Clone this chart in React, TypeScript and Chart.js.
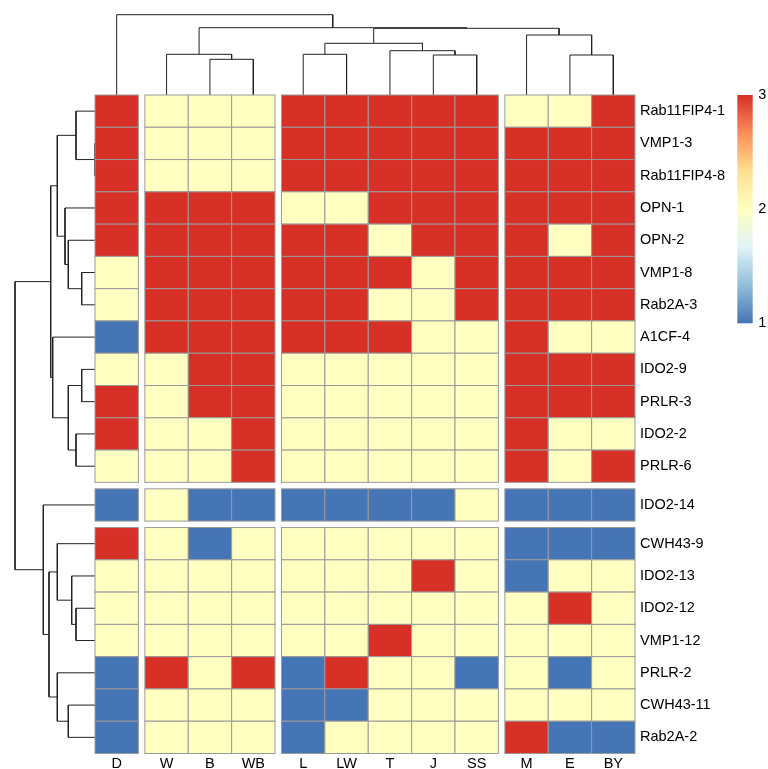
import React, { useEffect, useRef } from 'react';
import { Chart, registerables } from 'chart.js';
Chart.register(...registerables);

// ---------- data ----------
const colLabels = ['D', 'W', 'B', 'WB', 'L', 'LW', 'T', 'J', 'SS', 'M', 'E', 'BY'];
const colGroups = [0, 1, 1, 1, 2, 2, 2, 2, 2, 3, 3, 3];
const rowLabels = [
  'Rab11FIP4-1', 'VMP1-3', 'Rab11FIP4-8', 'OPN-1', 'OPN-2', 'VMP1-8', 'Rab2A-3', 'A1CF-4',
  'IDO2-9', 'PRLR-3', 'IDO2-2', 'PRLR-6', 'IDO2-14', 'CWH43-9', 'IDO2-13', 'IDO2-12',
  'VMP1-12', 'PRLR-2', 'CWH43-11', 'Rab2A-2',
];
const rowGroups = [0, 0, 0, 0, 0, 0, 0, 0, 0, 0, 0, 0, 1, 2, 2, 2, 2, 2, 2, 2];
// columns: D W B WB L LW T J SS M E BY
const values = [
  [3, 2, 2, 2, 3, 3, 3, 3, 3, 2, 2, 3],
  [3, 2, 2, 2, 3, 3, 3, 3, 3, 3, 3, 3],
  [3, 2, 2, 2, 3, 3, 3, 3, 3, 3, 3, 3],
  [3, 3, 3, 3, 2, 2, 3, 3, 3, 3, 3, 3],
  [3, 3, 3, 3, 3, 3, 2, 3, 3, 3, 2, 3],
  [2, 3, 3, 3, 3, 3, 3, 2, 3, 3, 3, 3],
  [2, 3, 3, 3, 3, 3, 2, 2, 3, 3, 3, 3],
  [1, 3, 3, 3, 3, 3, 3, 2, 2, 3, 2, 2],
  [2, 2, 3, 3, 2, 2, 2, 2, 2, 3, 3, 3],
  [3, 2, 3, 3, 2, 2, 2, 2, 2, 3, 3, 3],
  [3, 2, 2, 3, 2, 2, 2, 2, 2, 3, 2, 2],
  [2, 2, 2, 3, 2, 2, 2, 2, 2, 3, 2, 3],
  [1, 2, 1, 1, 1, 1, 1, 1, 2, 1, 1, 1],
  [3, 2, 1, 2, 2, 2, 2, 2, 2, 1, 1, 1],
  [2, 2, 2, 2, 2, 2, 2, 3, 2, 1, 2, 2],
  [2, 2, 2, 2, 2, 2, 2, 2, 2, 2, 3, 2],
  [2, 2, 2, 2, 2, 2, 3, 2, 2, 2, 2, 2],
  [1, 3, 2, 3, 1, 3, 2, 2, 1, 2, 1, 2],
  [1, 2, 2, 2, 1, 1, 2, 2, 2, 2, 2, 2],
  [1, 2, 2, 2, 1, 2, 2, 2, 2, 3, 1, 1],
];
// hclust-style merges: [a, b, height]; negative = leaf (-1 is first leaf), positive = earlier merge
const colMerge = [
  [-3, -4, 35.7],
  [-2, 1, 40.7],
  [-5, -6, 40.7],
  [-8, -9, 40],
  [-7, 4, 44.3],
  [3, 5, 51.7],
  [-11, -12, 40],
  [-10, 7, 60],
  [6, 8, 66.7],
  [2, 9, 67.3],
  [-1, 10, 80.3],
];
const rowMerge = [
  [-2, -3, 0],
  [-1, 1, 19],
  [-6, -7, 13.3],
  [-5, 3, 26.7],
  [-4, 4, 30],
  [2, 5, 37.7],
  [-9, -10, 13.3],
  [-11, -12, 19],
  [7, 8, 26.7],
  [-8, 9, 42.3],
  [6, 10, 44.3],
  [-16, -17, 19],
  [-15, 12, 23.3],
  [-14, 13, 37.7],
  [-19, -20, 26.7],
  [-18, 15, 37.7],
  [14, 16, 46],
  [-13, 17, 51.7],
  [11, 18, 80],
];
const legendTicks = [1, 2, 3];
const valueMin = 1;
const valueMax = 3;

// ---------- layout / style ----------
const W = 768;
const H = 769;
const HM = { left: 95, top: 95, right: 635, bottom: 753.5 };
const LEG = { left: 737.3, right: 752.7, top: 95, bottom: 323.3 };
const DENDRO_H = 95;
const GAP_C = 0.15;
const GAP_R = 0.2;
const FONT = { family: "'Liberation Sans', Arial, Helvetica, sans-serif", size: 14.5 };
const paletteStops = ['#4575B4', '#91BFDB', '#E0F3F8', '#FFFFBF', '#FEE090', '#FC8D59', '#D73027'];

const nGroupsC = Math.max(...colGroups);
const nGroupsR = Math.max(...rowGroups);
const colUnits = colLabels.length + GAP_C * nGroupsC;
const rowUnits = rowLabels.length + GAP_R * nGroupsR;
const colStart = (i: number) => i + GAP_C * colGroups[i];
const rowStart = (i: number) => i + GAP_R * rowGroups[i];
const colCenters = colLabels.map((_, i) => colStart(i) + 0.5);
const rowCenters = rowLabels.map((_, i) => rowStart(i) + 0.5);

function hexToRgb(h: string) {
  const n = parseInt(h.slice(1), 16);
  return [(n >> 16) & 255, (n >> 8) & 255, n & 255];
}
function ramp(t: number) {
  const n = paletteStops.length - 1;
  const p = Math.max(0, Math.min(1, t)) * n;
  const i = Math.min(Math.floor(p), n - 1);
  const f = p - i;
  const a = hexToRgb(paletteStops[i]);
  const b = hexToRgb(paletteStops[i + 1]);
  const c = a.map((v, k) => Math.round(v + (b[k] - v) * f));
  return `rgb(${c[0]},${c[1]},${c[2]})`;
}
function valueColor(v: number) {
  const k = Math.min(99, Math.max(0, Math.ceil(((v - valueMin) / (valueMax - valueMin)) * 100) - 1));
  return ramp(k / 99);
}

function dendroLinks(merge: number[][], leafPos: number[]) {
  const pos: number[] = [];
  const hts: number[] = [];
  const links: { p: number; h: number }[][] = [];
  merge.forEach(([a, b, ht]) => {
    const pa = a < 0 ? leafPos[-a - 1] : pos[a - 1];
    const ha = a < 0 ? 0 : hts[a - 1];
    const pb = b < 0 ? leafPos[-b - 1] : pos[b - 1];
    const hb = b < 0 ? 0 : hts[b - 1];
    links.push([
      { p: pa, h: ha },
      { p: pa, h: ht },
      { p: pb, h: ht },
      { p: pb, h: hb },
    ]);
    pos.push((pa + pb) / 2);
    hts.push(ht);
  });
  return links;
}

const baseOpts = {
  animation: false,
  responsive: false,
  devicePixelRatio: 1,
  events: [],
  plugins: { legend: { display: false }, tooltip: { enabled: false } },
};

const canvasStyle: React.CSSProperties = { position: 'absolute', left: 0, top: 0 };

export default function App() {
  const topRef = useRef<HTMLCanvasElement>(null);
  const leftRef = useRef<HTMLCanvasElement>(null);
  const mainRef = useRef<HTMLCanvasElement>(null);
  const legRef = useRef<HTMLCanvasElement>(null);

  useEffect(() => {
    const charts: Chart[] = [];
    const lineDs = (pts: { x: number; y: number }[]) => ({
      data: pts,
      showLine: true,
      borderColor: '#222',
      borderWidth: 1,
      pointRadius: 0,
      clip: false,
      tension: 0,
    });

    // top (column) dendrogram
    const colLinks = dendroLinks(colMerge, colCenters);
    charts.push(
      new Chart(topRef.current!, {
        type: 'scatter',
        data: { datasets: colLinks.map((l) => lineDs(l.map((q) => ({ x: q.p, y: q.h })))) },
        options: {
          ...baseOpts,
          layout: { padding: { left: HM.left, right: W - HM.right, top: 0, bottom: H - DENDRO_H } },
          scales: {
            x: { type: 'linear', min: 0, max: colUnits, display: false },
            y: { type: 'linear', min: 0, max: DENDRO_H, display: false },
          },
        } as any,
      })
    );

    // left (row) dendrogram
    const rowLinks = dendroLinks(rowMerge, rowCenters);
    charts.push(
      new Chart(leftRef.current!, {
        type: 'scatter',
        data: { datasets: rowLinks.map((l) => lineDs(l.map((q) => ({ x: q.h, y: q.p })))) },
        options: {
          ...baseOpts,
          layout: { padding: { left: 0, right: W - DENDRO_H, top: HM.top, bottom: H - HM.bottom } },
          scales: {
            x: { type: 'linear', min: 0, max: DENDRO_H, reverse: true, display: false },
            y: { type: 'linear', min: 0, max: rowUnits, reverse: true, display: false },
          },
        } as any,
      })
    );

    // heatmap
    const cellPlugin = {
      id: 'cells',
      afterDatasetsDraw(chart: any) {
        const { ctx } = chart;
        const xs = chart.scales.x;
        const ys = chart.scales.y;
        ctx.save();
        ctx.lineWidth = 1;
        ctx.strokeStyle = '#9a9a9a';
        values.forEach((row, r) => {
          row.forEach((v, c) => {
            const x0 = xs.getPixelForValue(colStart(c));
            const x1 = xs.getPixelForValue(colStart(c) + 1);
            const y0 = ys.getPixelForValue(rowStart(r));
            const y1 = ys.getPixelForValue(rowStart(r) + 1);
            ctx.fillStyle = valueColor(v);
            ctx.fillRect(x0, y0, x1 - x0, y1 - y0);
            ctx.strokeRect(x0, y0, x1 - x0, y1 - y0);
          });
        });
        ctx.restore();
      },
    };
    charts.push(
      new Chart(mainRef.current!, {
        type: 'scatter',
        data: { datasets: [] },
        options: {
          ...baseOpts,
          layout: { padding: { left: HM.left, top: HM.top, right: 0, bottom: 0 } },
          scales: {
            x: {
              type: 'linear',
              position: 'bottom',
              min: 0,
              max: colUnits,
              grid: { display: false, drawTicks: false },
              border: { display: false },
              afterBuildTicks: (s: any) => {
                s.ticks = colCenters.map((v) => ({ value: v }));
              },
              afterFit: (s: any) => {
                s.height = H - HM.bottom;
              },
              ticks: {
                autoSkip: false,
                maxRotation: 0,
                minRotation: 0,
                padding: 2,
                color: '#000',
                font: FONT,
                callback: (_v: any, i: number) => colLabels[i],
              },
            },
            y: {
              type: 'linear',
              position: 'right',
              reverse: true,
              min: 0,
              max: rowUnits,
              grid: { display: false, drawTicks: false },
              border: { display: false },
              afterBuildTicks: (s: any) => {
                s.ticks = rowCenters.map((v) => ({ value: v }));
              },
              afterFit: (s: any) => {
                s.width = W - HM.right;
              },
              ticks: {
                autoSkip: false,
                padding: 5,
                color: '#000',
                font: FONT,
                callback: (_v: any, i: number) => rowLabels[i],
              },
            },
          },
        } as any,
        plugins: [cellPlugin],
      })
    );

    // colour legend
    const legPlugin = {
      id: 'legbar',
      afterDatasetsDraw(chart: any) {
        const { ctx } = chart;
        const xs = chart.scales.x;
        const ys = chart.scales.y;
        const x0 = xs.getPixelForValue(0);
        const x1 = xs.getPixelForValue(1);
        const yb = ys.getPixelForValue(valueMin);
        const yt = ys.getPixelForValue(valueMax);
        const g = ctx.createLinearGradient(0, yb, 0, yt);
        for (let k = 0; k < 100; k++) g.addColorStop(k / 99, ramp(k / 99));
        ctx.save();
        ctx.fillStyle = g;
        ctx.fillRect(x0, yt, x1 - x0, yb - yt);
        ctx.restore();
      },
    };
    charts.push(
      new Chart(legRef.current!, {
        type: 'scatter',
        data: { datasets: [] },
        options: {
          ...baseOpts,
          layout: { padding: { left: LEG.left, top: LEG.top, right: 0, bottom: H - LEG.bottom } },
          scales: {
            x: { type: 'linear', min: 0, max: 1, display: false },
            y: {
              type: 'linear',
              position: 'right',
              min: valueMin,
              max: valueMax,
              grid: { display: false, drawTicks: false },
              border: { display: false },
              afterBuildTicks: (s: any) => {
                s.ticks = legendTicks.map((v) => ({ value: v }));
              },
              afterFit: (s: any) => {
                s.width = W - LEG.right;
              },
              ticks: {
                padding: 5.5,
                color: '#000',
                font: FONT,
                callback: (v: any) => String(v),
              },
            },
          },
        } as any,
        plugins: [legPlugin],
      })
    );

    return () => charts.forEach((c) => c.destroy());
  }, []);

  return (
    <div style={{ position: 'absolute', left: 0, top: 0, width: W, height: H, background: '#fff' }}>
      <canvas ref={topRef} width={W} height={H} style={canvasStyle} />
      <canvas ref={leftRef} width={W} height={H} style={canvasStyle} />
      <canvas ref={mainRef} width={W} height={H} style={canvasStyle} />
      <canvas ref={legRef} width={W} height={H} style={canvasStyle} />
    </div>
  );
}
